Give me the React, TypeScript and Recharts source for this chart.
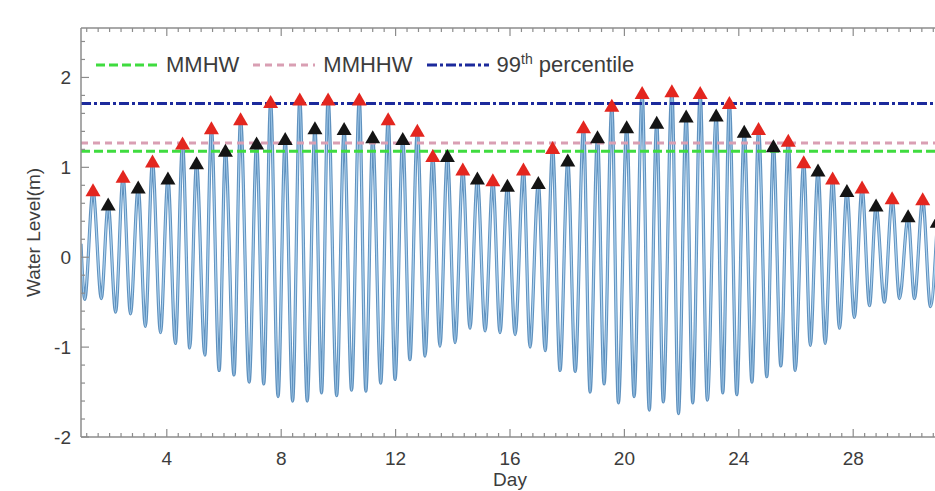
import React from "react";
import { ComposedChart, Line, Scatter, XAxis, YAxis, ReferenceLine } from "recharts";

// high waters: day, level (m), and whether it is the day's higher high
const highDays = [1.42, 1.95, 2.47, 3.0, 3.5, 4.04, 4.55, 5.04, 5.56, 6.05, 6.58, 7.14, 7.63, 8.14, 8.65, 9.18, 9.64, 10.2, 10.73, 11.2, 11.74, 12.25, 12.76, 13.3, 13.81, 14.35, 14.86, 15.4, 15.91, 16.47, 16.99, 17.49, 18.02, 18.57, 19.06, 19.56, 20.08, 20.62, 21.13, 21.66, 22.16, 22.65, 23.21, 23.67, 24.19, 24.69, 25.21, 25.73, 26.27, 26.77, 27.28, 27.78, 28.31, 28.8, 29.36, 29.92, 30.43, 30.94];
const highLevels = [0.74, 0.58, 0.89, 0.77, 1.06, 0.87, 1.26, 1.04, 1.43, 1.18, 1.53, 1.26, 1.72, 1.31, 1.75, 1.43, 1.75, 1.42, 1.75, 1.33, 1.53, 1.31, 1.4, 1.12, 1.12, 0.97, 0.87, 0.85, 0.79, 0.97, 0.82, 1.21, 1.07, 1.44, 1.33, 1.68, 1.44, 1.82, 1.49, 1.84, 1.56, 1.82, 1.57, 1.71, 1.39, 1.42, 1.23, 1.29, 1.05, 0.96, 0.87, 0.73, 0.77, 0.57, 0.65, 0.45, 0.64, 0.39];
const highKind = [
  "HH", "LH", "HH", "LH", "HH", "LH", "HH", "LH", "HH", "LH",
  "HH", "LH", "HH", "LH", "HH", "LH", "HH", "LH", "HH", "LH",
  "HH", "LH", "HH", "HH", "LH", "HH", "LH", "HH", "LH", "HH",
  "LH", "HH", "LH", "HH", "LH", "HH", "LH", "HH", "LH", "HH",
  "LH", "HH", "LH", "HH", "LH", "HH", "LH", "HH", "HH", "LH",
  "HH", "LH", "HH", "LH", "HH", "LH", "HH", "LH",
];

// low waters
const lowDays = [1.13, 1.71, 2.21, 2.73, 3.25, 3.78, 4.3, 4.8, 5.33, 5.83, 6.35, 6.88, 7.39, 7.89, 8.4, 8.91, 9.41, 9.94, 10.46, 10.96, 11.48, 11.98, 12.5, 13.03, 13.55, 14.08, 14.6, 15.13, 15.65, 16.18, 16.7, 17.23, 17.75, 18.28, 18.8, 19.29, 19.79, 20.34, 20.87, 21.36, 21.89, 22.39, 22.9, 23.44, 23.93, 24.46, 24.98, 25.47, 25.97, 26.5, 27.02, 27.52, 28.04, 28.57, 29.09, 29.62, 30.14, 30.7];
const lowLevels = [-0.47, -0.46, -0.61, -0.63, -0.77, -0.84, -0.96, -1.01, -1.09, -1.26, -1.31, -1.39, -1.41, -1.55, -1.6, -1.6, -1.51, -1.54, -1.48, -1.49, -1.4, -1.36, -1.14, -1.1, -0.99, -0.95, -0.79, -0.82, -0.84, -0.86, -1.0, -1.04, -1.26, -1.27, -1.5, -1.41, -1.62, -1.55, -1.7, -1.61, -1.74, -1.62, -1.59, -1.51, -1.53, -1.39, -1.33, -1.21, -1.26, -0.98, -0.96, -0.79, -0.67, -0.54, -0.5, -0.46, -0.46, -0.55];

// level where the record starts at the left edge
const startDay = 1.0;
const startLevel = 0.15;

// threshold lines
const thresholdNames = ["MMHW", "MMHHW", "99th percentile"];
const thresholdLevels = [1.18, 1.27, 1.71];

// axes
const dayLabels = [4, 8, 12, 16, 20, 24, 28];
const levelLabels = [-2, -1, 0, 1, 2];
const levelMax = 2.55;
const dayTicks = Array.from({ length: 75 }, (_, i) => +(1.2 + i * 0.4).toFixed(1));
const levelTicks = Array.from({ length: 23 }, (_, i) => +(-2 + i * 0.2).toFixed(1));

const tide = [
  { day: startDay, level: startLevel },
  ...highDays.map((d, i) => ({ day: d, level: highLevels[i] })),
  ...lowDays.map((d, i) => ({ day: d, level: lowLevels[i] })),
].sort((a, b) => a.day - b.day);

const higherHighs = highDays.map((d, i) => ({ day: d, level: highLevels[i], k: highKind[i] })).filter((p) => p.k === "HH");
const lowerHighs = highDays.map((d, i) => ({ day: d, level: highLevels[i], k: highKind[i] })).filter((p) => p.k === "LH");

const FONT = "'Liberation Sans', Arial, Helvetica, sans-serif";
const axisColor = "#8c8c8c";
const textColor = "#3c3c3c";
const PLOT_TOP = 28;
const lineStyles = [
  { color: "#3fdc3f", dash: "9 4" },
  { color: "#d99fb3", dash: "7 5" },
  { color: "#1c2a9c", dash: "10 3 3 3" },
];

const isMajor = (v: number, labels: number[]) => labels.includes(Math.round(v * 10) / 10);

// bottom ticks, mirrored on the top frame edge
function DayTick({ x, y, payload }: any) {
  const major = isMajor(payload.value, dayLabels);
  const len = major ? 8 : 4;
  return (
    <g>
      <line x1={x} x2={x} y1={y} y2={y - len} stroke={axisColor} strokeWidth={1.2} />
      <line x1={x} x2={x} y1={PLOT_TOP} y2={PLOT_TOP + len} stroke={axisColor} strokeWidth={1.2} />
      {major && (
        <text x={x} y={y + 28} textAnchor="middle" fontFamily={FONT} fontSize={19} fill={textColor}>
          {payload.value}
        </text>
      )}
    </g>
  );
}

function LevelTick({ x, y, payload }: any) {
  const major = isMajor(payload.value, levelLabels);
  return (
    <g>
      <line x1={x} x2={x + (major ? 8 : 4)} y1={y} y2={y} stroke={axisColor} strokeWidth={1.2} />
      {major && (
        <text x={x - 10} y={y + 7} textAnchor="end" fontFamily={FONT} fontSize={19} fill={textColor}>
          {Math.round(payload.value)}
        </text>
      )}
    </g>
  );
}

function XTitle({ viewBox }: any) {
  return (
    <text x={viewBox.x + viewBox.width / 2} y={viewBox.y + 49} textAnchor="middle" fontFamily={FONT} fontSize={19} fill={textColor}>
      Day
    </text>
  );
}

function YTitle({ viewBox }: any) {
  const cx = viewBox.x + 33;
  const cy = viewBox.y + viewBox.height / 2;
  return (
    <text x={cx} y={cy} transform={`rotate(-90, ${cx}, ${cy})`} textAnchor="middle" dominantBaseline="central" fontFamily={FONT} fontSize={19} fill={textColor}>
      Water Level(m)
    </text>
  );
}

const triangle = (fill: string) => (props: any) => {
  const { cx, cy } = props;
  return <polygon points={`${cx},${cy - 7.5} ${cx - 7.5},${cy + 5.5} ${cx + 7.5},${cy + 5.5}`} fill={fill} />;
};

function LegendBox() {
  return (
    <div style={{ position: "absolute", left: 96, top: 51, display: "flex", alignItems: "center", fontFamily: FONT, fontSize: 22, color: textColor, whiteSpace: "nowrap" }}>
      {thresholdNames.map((name, i) => (
        <div key={name} style={{ display: "flex", alignItems: "center", marginRight: 14 }}>
          <svg width={62} height={10}>
            <line x1={0} x2={62} y1={5} y2={5} stroke={lineStyles[i].color} strokeWidth={3} strokeDasharray={lineStyles[i].dash} />
          </svg>
          <span style={{ marginLeft: 8 }}>
            {name.startsWith("99th") ? (
              <>
                99<sup style={{ fontSize: 14 }}>th</sup> percentile
              </>
            ) : (
              name
            )}
          </span>
        </div>
      ))}
    </div>
  );
}

export default function App() {
  return (
    <div style={{ position: "fixed", left: 0, top: 0, width: 935, height: 491, overflow: "hidden", background: "#ffffff" }}>
      <ComposedChart width={941} height={491} margin={{ top: PLOT_TOP, right: 2, bottom: 0, left: 0 }}>
        <XAxis
          dataKey="day"
          type="number"
          domain={[1, 31]}
          ticks={dayTicks}
          interval={0}
          allowDataOverflow
          tickLine={false}
          tickSize={0}
          tickMargin={0}
          tick={<DayTick />}
          axisLine={{ stroke: axisColor, strokeWidth: 1.5 }}
          height={54}
          label={<XTitle />}
        />
        <YAxis
          type="number"
          domain={[-2, levelMax]}
          ticks={levelTicks}
          interval={0}
          allowDataOverflow
          tickLine={false}
          tickSize={0}
          tickMargin={0}
          tick={<LevelTick />}
          axisLine={{ stroke: axisColor, strokeWidth: 1.5 }}
          width={81}
          label={<YTitle />}
        />
        <Line data={tide} dataKey="level" type="monotone" stroke="#5f91be" strokeWidth={3.2} dot={false} activeDot={false} isAnimationActive={false} />
        <Line data={tide} dataKey="level" type="monotone" stroke="#aed3f0" strokeWidth={1.3} dot={false} activeDot={false} isAnimationActive={false} />
        {thresholdLevels.map((lv, i) => (
          <ReferenceLine key={thresholdNames[i]} y={lv} stroke={lineStyles[i].color} strokeWidth={3} strokeDasharray={lineStyles[i].dash} />
        ))}
        {/* top edge of the frame */}
        <ReferenceLine y={levelMax} ifOverflow="visible" stroke={axisColor} strokeWidth={1.5} />
        <Scatter data={higherHighs} dataKey="level" fill="#e3261f" shape={triangle("#e3261f")} isAnimationActive={false} />
        <Scatter data={lowerHighs} dataKey="level" fill="#141414" shape={triangle("#141414")} isAnimationActive={false} />
      </ComposedChart>
      <LegendBox />
    </div>
  );
}
